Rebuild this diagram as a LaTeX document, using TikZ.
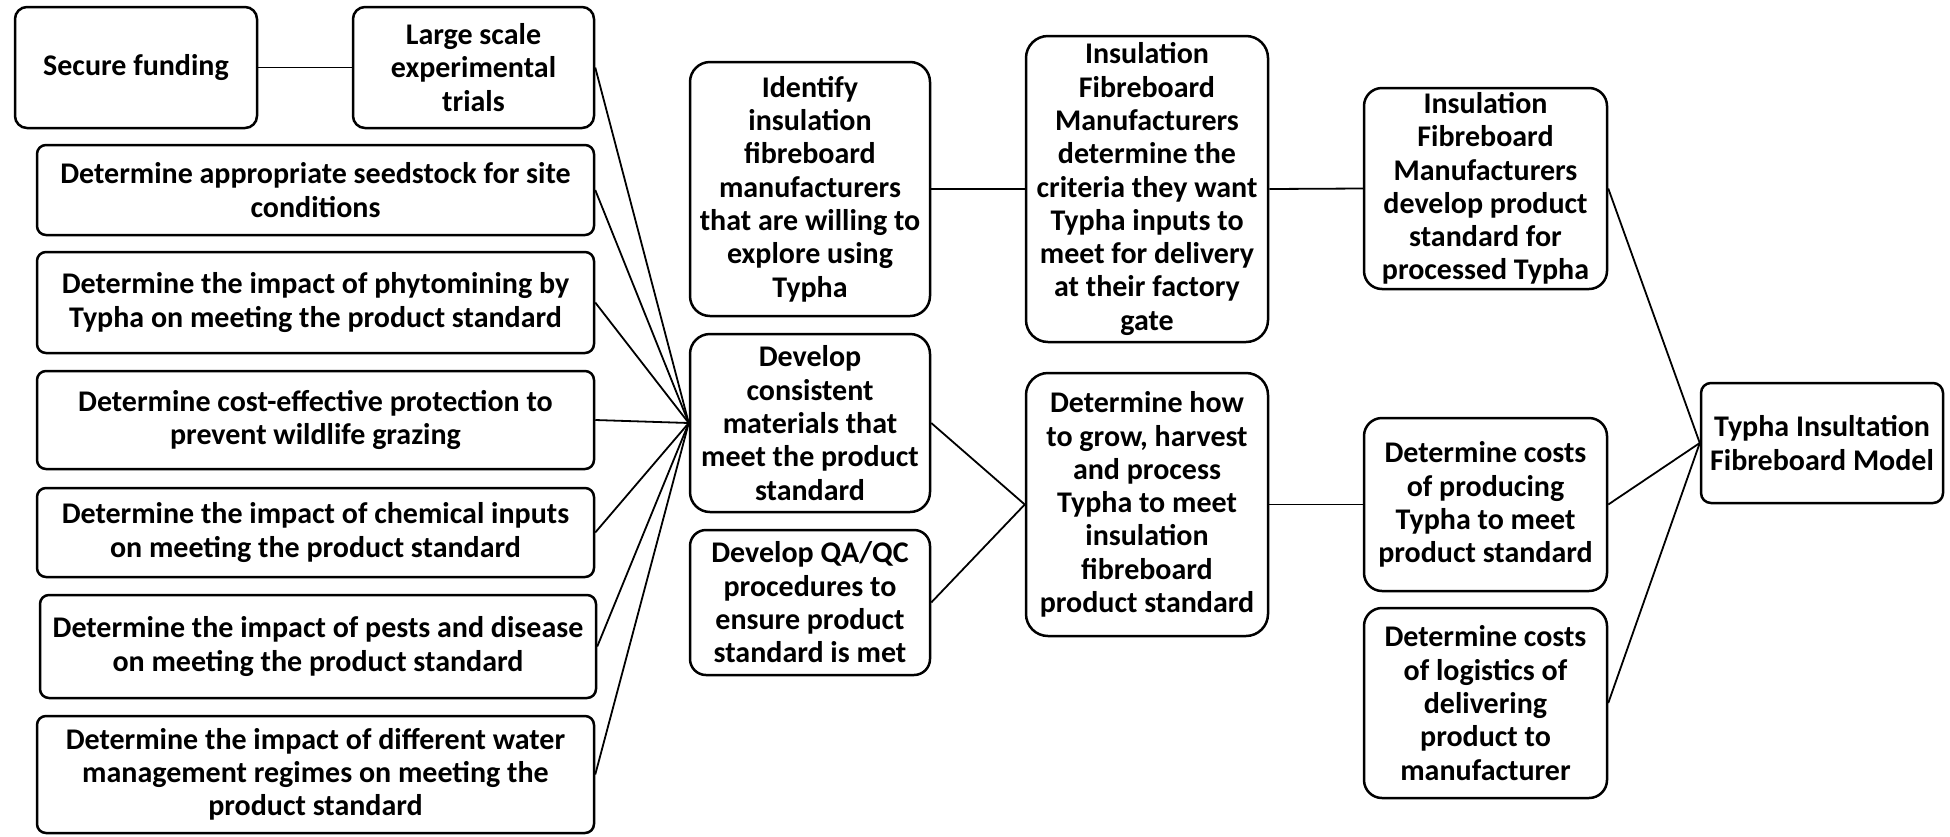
\documentclass[tikz,border=0pt]{standalone}
\usepackage{fontspec}
\setmainfont{Carlito}
\begin{document}
\begin{tikzpicture}[x=1pt,y=-1pt,
  box/.style={draw, line width=2.5pt, rounded corners=#1, align=center, inner sep=0pt,
    font=\fontsize{30}{33.3}\selectfont\bfseries},
  box/.default=9pt,
  link/.style={line width=1.8pt}]
\useasboundingbox (0,0) rectangle (1950,836);
% left column
\node[box=12pt, minimum width=242pt, minimum height=121pt] (fund) at (136,67.5) {Secure funding};
\node[box=12pt, minimum width=241pt, minimum height=121pt] (large) at (473.5,67.5) {Large scale\\experimental\\trials};
\node[box, minimum width=557pt, minimum height=90pt] (seed) at (315.5,190) {Determine appropriate seedstock for site\\conditions};
\node[box, minimum width=557pt, minimum height=101pt] (phyto) at (315.5,302.5) {Determine the impact of phytomining by\\Typha on meeting the product standard};
\node[box, minimum width=557pt, minimum height=98pt] (cost) at (315.5,420) {Determine cost-effective protection to\\prevent wildlife grazing};
\node[box, minimum width=557pt, minimum height=89pt] (chem) at (315.5,532.5) {Determine the impact of chemical inputs\\on meeting the product standard};
\node[box, minimum width=556pt, minimum height=103pt] (pests) at (318,646.5) {Determine the impact of pests and disease\\on meeting the product standard};
\node[box, minimum width=557pt, minimum height=117pt] (water) at (315.5,774.5) {Determine the impact of different water\\management regimes on meeting the\\product standard};
% second column
\node[box=20pt, minimum width=240pt, minimum height=254pt] (ident) at (810,189) {Identify\\insulation\\fibreboard\\manufacturers\\that are willing to\\explore using\\Typha};
\node[box=20pt, minimum width=240pt, minimum height=178pt] (devcons) at (810,423) {Develop\\consistent\\materials that\\meet the product\\standard};
\node[box=16pt, minimum width=240pt, minimum height=145pt] (qaqc) at (810,602.5) {Develop QA/QC\\procedures to\\ensure product\\standard is met};
% third column
\node[box=22pt, minimum width=242pt, minimum height=306pt] (ifmdet) at (1147,189) {Insulation\\Fibreboard\\Manufacturers\\determine the\\criteria they want\\Typha inputs to\\meet for delivery\\at their factory\\gate};
\node[box=22pt, minimum width=242pt, minimum height=263pt] (howgrow) at (1147,504.5) {Determine how\\to grow, harvest\\and process\\Typha to meet\\insulation\\fibreboard\\product standard};
% fourth column
\node[box=18pt, minimum width=243pt, minimum height=201pt] (ifmdev) at (1485.5,188.5) {Insulation\\Fibreboard\\Manufacturers\\develop product\\standard for\\processed Typha};
\node[box=18pt, minimum width=243pt, minimum height=173pt] (costprod) at (1485.5,504.5) {Determine costs\\of producing\\Typha to meet\\product standard};
\node[box=18pt, minimum width=243pt, minimum height=190pt] (costlog) at (1485.5,703) {Determine costs\\of logistics of\\delivering\\product to\\manufacturer};
% final
\node[box=10pt, minimum width=242pt, minimum height=120pt] (model) at (1822,443) {Typha Insultation\\Fibreboard Model};
% connectors
\draw[link] (fund.east) -- (large.west);
\foreach \n in {large,seed,phyto,cost,chem,pests,water}
  \draw[link] (\n.east) -- (devcons.west);
\draw[link] (ident.east) -- (ifmdet.west);
\draw[link] (ifmdet.east) -- (ifmdev.west);
\draw[link] (devcons.east) -- (howgrow.west);
\draw[link] (qaqc.east) -- (howgrow.west);
\draw[link] (howgrow.east) -- (costprod.west);
\draw[link] (ifmdev.east) -- (model.west);
\draw[link] (costprod.east) -- (model.west);
\draw[link] (costlog.east) -- (model.west);
\end{tikzpicture}
\end{document}
